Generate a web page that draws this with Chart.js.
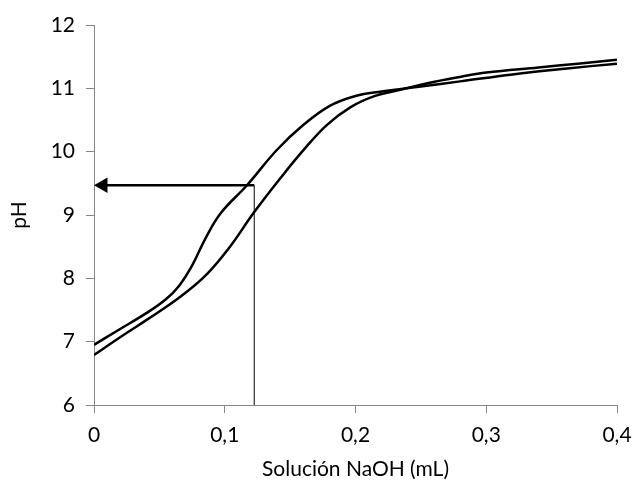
<!DOCTYPE html>
<html>
<head>
<meta charset="utf-8">
<script src="https://cdn.jsdelivr.net/npm/chart.js@4"></script>
<style>
html,body{margin:0;padding:0;background:#fff;}
#wrap{width:634px;height:482px;}
</style>
</head>
<body>
<div id="wrap"><canvas id="c" width="634" height="482"></canvas></div>
<script>
// Data
const seriesAX = [0, 0.02, 0.04, 0.055, 0.065, 0.075, 0.085, 0.097, 0.117, 0.14, 0.16, 0.18, 0.20, 0.22, 0.25, 0.28, 0.32, 0.36, 0.40];
const seriesAY = [6.95, 7.2, 7.45, 7.67, 7.88, 8.2, 8.62, 9.03, 9.47, 10.03, 10.42, 10.72, 10.88, 10.95, 11.03, 11.11, 11.22, 11.31, 11.39];
const seriesBX = [0, 0.02, 0.04, 0.066, 0.086, 0.104, 0.122, 0.1425, 0.16, 0.178, 0.196, 0.215, 0.235, 0.255, 0.28, 0.30, 0.34, 0.37, 0.40];
const seriesBY = [6.79, 7.07, 7.34, 7.71, 8.06, 8.5, 9.03, 9.58, 10.02, 10.42, 10.7, 10.88, 10.98, 11.08, 11.18, 11.25, 11.33, 11.39, 11.45];
const markerX = 0.1226;   // NaOH volume read at the marker
const markerPH = 9.47;    // pH read at the marker
const xTicks = ["0", "0,1", "0,2", "0,3", "0,4"];
const yTicks = ["6", "7", "8", "9", "10", "11", "12"];
const xTitle = "Solución NaOH (mL)";
const yTitle = "pH";

const toPts = (xs, ys) => xs.map((x, i) => ({x: x, y: ys[i]}));

const FONT = "Lato, 'Open Sans', sans-serif";
const FS = 21;

new Chart(document.getElementById('c'), {
  type: 'scatter',
  data: {
    datasets: [
      {
        data: toPts(seriesAX, seriesAY),
        showLine: true, borderColor: '#000', borderWidth: 2.5,
        pointRadius: 0, tension: 0.4
      },
      {
        data: toPts(seriesBX, seriesBY),
        showLine: true, borderColor: '#000', borderWidth: 2.5,
        pointRadius: 0, tension: 0.4
      },
      {
        // vertical reading line
        data: [{x: markerX, y: 6}, {x: markerX, y: markerPH}],
        showLine: true, borderColor: '#404040', borderWidth: 1.3,
        pointRadius: 0
      },
      {
        // horizontal arrow shaft
        data: [{x: markerX, y: markerPH}, {x: 0.008, y: markerPH}],
        showLine: true, borderColor: '#000', borderWidth: 2.5,
        pointRadius: 0
      },
      {
        // arrow head
        data: [{x: 0.0069, y: markerPH}],
        showLine: false,
        pointStyle: 'triangle', pointRotation: 270,
        pointRadius: 9, pointBackgroundColor: '#000', pointBorderColor: '#000',
        pointBorderWidth: 0
      }
    ]
  },
  options: {
    responsive: false,
    animation: false,
    layout: {padding: {left: 7, right: 17, top: 25, bottom: 0}},
    plugins: {legend: {display: false}, tooltip: {enabled: false}},
    scales: {
      x: {
        type: 'linear', min: 0, max: 0.4,
        afterFit: (s) => { s.height = 77; s.paddingRight = 0; },
        border: {display: true, color: '#868686', width: 1},
        grid: {display: true, drawOnChartArea: false, drawTicks: true, tickLength: 8, color: '#868686'},
        ticks: {
          stepSize: 0.1, color: '#000', padding: 10, maxRotation: 0,
          font: {family: FONT, size: FS},
          callback: (v) => xTicks[Math.round(v * 10)]
        },
        title: {display: true, text: xTitle, color: '#000', font: {family: FONT, size: FS}, padding: {top: 0, bottom: 0}}
      },
      y: {
        type: 'linear', min: 6, max: 12,
        afterFit: (s) => { s.width = 87; },
        border: {display: true, color: '#868686', width: 1},
        grid: {display: true, drawOnChartArea: false, drawTicks: true, tickLength: 8, color: '#868686'},
        ticks: {
          stepSize: 1, color: '#000', padding: 11,
          font: {family: FONT, size: FS},
          callback: (v) => yTicks[Math.round(v) - 6]
        },
        title: {display: true, text: yTitle, color: '#000', font: {family: FONT, size: FS}, padding: {top: 0, bottom: 0}}
      }
    }
  }
});
</script>
</body>
</html>
